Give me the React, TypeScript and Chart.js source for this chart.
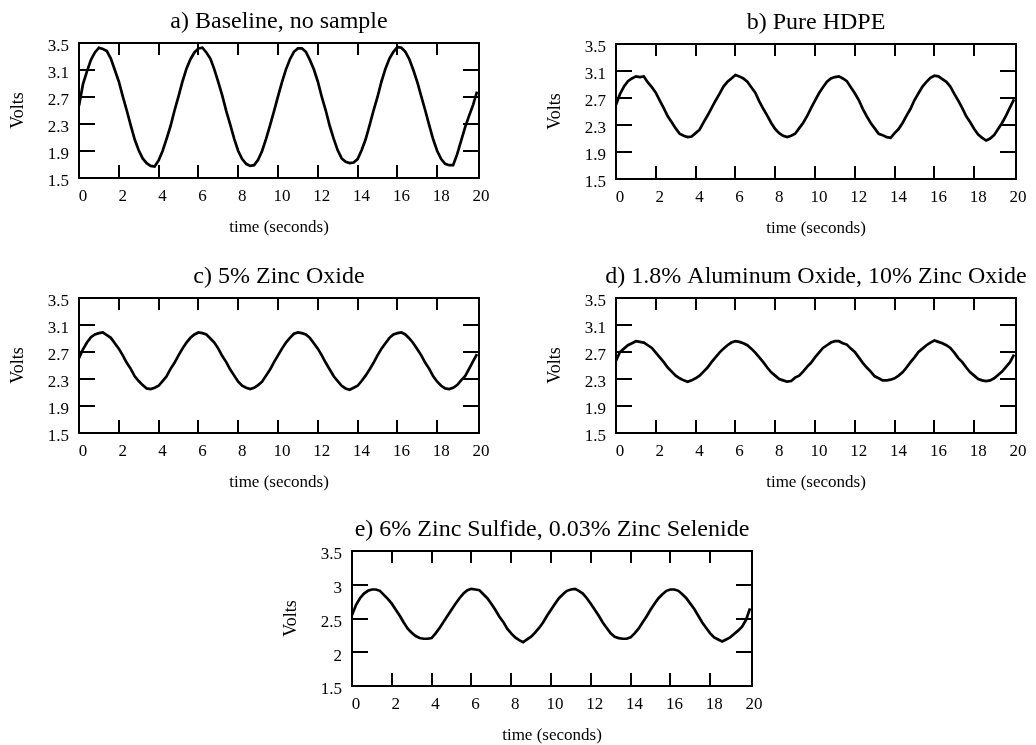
import React, { useEffect, useRef } from 'react';
import { Chart, registerables } from 'chart.js';

Chart.register(...registerables);

const SERIF = "'Liberation Serif', 'Times New Roman', Times, serif";

// sampling interval of the recorded traces (seconds)
const timeStep = 0.2;
const timeTicks = [0, 2, 4, 6, 8, 10, 12, 14, 16, 18, 20];
const voltTicks = [1.5, 1.9, 2.3, 2.7, 3.1, 3.5];
const voltTicksE = [1.5, 2, 2.5, 3, 3.5];

// a) Baseline, no sample
const baselineVolts = [
  2.57, 2.89, 3.08, 3.25, 3.36, 3.43, 3.41, 3.38, 3.27, 3.10, 2.93, 2.71, 2.50, 2.28, 2.07, 1.91, 1.79, 1.72, 1.68, 1.67, 1.76, 1.90, 2.08, 2.27, 2.50,
  2.71, 2.93, 3.12, 3.26, 3.36, 3.42, 3.43, 3.36, 3.27, 3.11, 2.92, 2.72, 2.49, 2.29, 2.08, 1.90, 1.78, 1.71, 1.68, 1.69, 1.77, 1.90, 2.08, 2.28, 2.49,
  2.71, 2.92, 3.11, 3.26, 3.37, 3.42, 3.42, 3.37, 3.25, 3.11, 2.93, 2.70, 2.50, 2.27, 2.08, 1.91, 1.79, 1.74, 1.72, 1.73, 1.78, 1.91, 2.07, 2.28, 2.50,
  2.70, 2.93, 3.12, 3.27, 3.37, 3.44, 3.43, 3.37, 3.26, 3.10, 2.92, 2.71, 2.50, 2.28, 2.07, 1.90, 1.78, 1.71, 1.69, 1.69, 1.85, 2.05, 2.25, 2.42, 2.58,
  2.78,
];

// b) Pure HDPE
const hdpeVolts = [
  2.60, 2.76, 2.87, 2.95, 2.99, 3.02, 3.01, 3.02, 2.93, 2.86, 2.78, 2.66, 2.55, 2.43, 2.34, 2.25, 2.17, 2.14, 2.12, 2.13, 2.18, 2.23, 2.34, 2.44, 2.55,
  2.66, 2.76, 2.87, 2.94, 2.99, 3.04, 3.02, 2.99, 2.94, 2.86, 2.78, 2.65, 2.54, 2.44, 2.33, 2.24, 2.18, 2.14, 2.12, 2.14, 2.17, 2.25, 2.33, 2.43, 2.55,
  2.66, 2.77, 2.86, 2.94, 2.99, 3.01, 3.02, 2.99, 2.95, 2.86, 2.77, 2.67, 2.54, 2.43, 2.33, 2.25, 2.17, 2.15, 2.12, 2.11, 2.18, 2.24, 2.33, 2.44, 2.54,
  2.67, 2.77, 2.87, 2.94, 3.00, 3.03, 3.02, 2.98, 2.94, 2.87, 2.76, 2.66, 2.55, 2.43, 2.34, 2.24, 2.16, 2.11, 2.07, 2.10, 2.15, 2.24, 2.33, 2.44, 2.56,
  2.68,
];

// c) 5% Zinc Oxide
const zincOxideVolts = [
  2.61, 2.74, 2.84, 2.92, 2.96, 2.98, 2.99, 2.95, 2.91, 2.83, 2.75, 2.65, 2.54, 2.45, 2.34, 2.27, 2.21, 2.16, 2.15, 2.17, 2.20, 2.27, 2.34, 2.45, 2.54,
  2.65, 2.75, 2.84, 2.91, 2.96, 2.99, 2.98, 2.96, 2.90, 2.84, 2.75, 2.64, 2.55, 2.44, 2.35, 2.26, 2.20, 2.17, 2.15, 2.17, 2.21, 2.26, 2.35, 2.44, 2.55,
  2.65, 2.75, 2.84, 2.91, 2.97, 2.99, 2.98, 2.96, 2.91, 2.83, 2.75, 2.65, 2.54, 2.44, 2.34, 2.27, 2.20, 2.16, 2.14, 2.17, 2.20, 2.27, 2.35, 2.44, 2.54,
  2.65, 2.75, 2.83, 2.91, 2.96, 2.98, 2.99, 2.96, 2.90, 2.83, 2.74, 2.65, 2.54, 2.45, 2.34, 2.26, 2.20, 2.16, 2.15, 2.17, 2.21, 2.28, 2.34, 2.45, 2.56,
  2.67,
];

// d) 1.8% Aluminum Oxide, 10% Zinc Oxide
const aluminumZincVolts = [
  2.57, 2.70, 2.75, 2.80, 2.83, 2.86, 2.85, 2.84, 2.80, 2.76, 2.69, 2.62, 2.55, 2.47, 2.41, 2.35, 2.31, 2.28, 2.26, 2.28, 2.31, 2.35, 2.41, 2.47, 2.55,
  2.62, 2.69, 2.75, 2.80, 2.84, 2.86, 2.85, 2.83, 2.80, 2.75, 2.69, 2.62, 2.55, 2.47, 2.40, 2.35, 2.30, 2.28, 2.26, 2.27, 2.32, 2.35, 2.41, 2.48, 2.54,
  2.62, 2.69, 2.76, 2.80, 2.84, 2.86, 2.86, 2.83, 2.81, 2.75, 2.70, 2.62, 2.54, 2.47, 2.41, 2.34, 2.31, 2.28, 2.28, 2.29, 2.31, 2.35, 2.40, 2.47, 2.55,
  2.62, 2.70, 2.75, 2.80, 2.84, 2.87, 2.85, 2.83, 2.80, 2.76, 2.69, 2.61, 2.55, 2.47, 2.40, 2.35, 2.30, 2.28, 2.27, 2.28, 2.31, 2.36, 2.41, 2.48, 2.55,
  2.66,
];

// e) 6% Zinc Sulfide, 0.03% Zinc Selenide
const sulfideSelenideVolts = [
  2.55, 2.70, 2.80, 2.87, 2.91, 2.93, 2.93, 2.91, 2.85, 2.79, 2.72, 2.63, 2.54, 2.44, 2.35, 2.29, 2.24, 2.21, 2.20, 2.20, 2.21, 2.28, 2.36, 2.45, 2.54,
  2.63, 2.72, 2.80, 2.87, 2.92, 2.94, 2.93, 2.92, 2.86, 2.80, 2.72, 2.63, 2.53, 2.45, 2.35, 2.28, 2.22, 2.18, 2.15, 2.19, 2.23, 2.29, 2.36, 2.44, 2.54,
  2.63, 2.72, 2.80, 2.86, 2.91, 2.93, 2.94, 2.91, 2.87, 2.80, 2.72, 2.63, 2.54, 2.44, 2.36, 2.28, 2.23, 2.21, 2.20, 2.20, 2.22, 2.28, 2.35, 2.44, 2.53,
  2.63, 2.72, 2.80, 2.86, 2.91, 2.93, 2.93, 2.91, 2.86, 2.80, 2.72, 2.64, 2.54, 2.44, 2.36, 2.28, 2.22, 2.19, 2.16, 2.19, 2.22, 2.27, 2.32, 2.38, 2.48,
  2.65,
];

const panelTitles = [
  'a) Baseline, no sample',
  'b) Pure HDPE',
  'c) 5% Zinc Oxide',
  'd) 1.8% Aluminum Oxide, 10% Zinc Oxide',
  'e) 6% Zinc Sulfide, 0.03% Zinc Selenide',
];

const xAxisTitle = 'time (seconds)';
const yAxisTitle = 'Volts';

// layout (frame top-left corner of each panel, in page pixels)
const FRAME_W = 400;
const FRAME_H = 135;
const PAD_L = 79;
const PAD_T = 43;
const CANVAS_W = 558;
const CANVAS_H = 245;

const framePlugin = {
  id: 'panelFrame',
  afterDatasetsDraw(chart: any, _args: any, opts: any) {
    const { ctx, chartArea } = chart;
    const { left, right, top, bottom } = chartArea;
    const xs = chart.scales.x;
    const ys = chart.scales.y;
    ctx.save();
    ctx.strokeStyle = '#000';
    ctx.lineWidth = 2;
    ctx.strokeRect(left, top, right - left, bottom - top);
    ctx.beginPath();
    xs.ticks.forEach((t: any) => {
      if (t.value <= xs.min || t.value >= 20) return;
      const px = Math.round(xs.getPixelForValue(t.value));
      ctx.moveTo(px, top);
      ctx.lineTo(px, top + 12);
      ctx.moveTo(px, bottom);
      ctx.lineTo(px, bottom - 13);
    });
    ys.ticks.forEach((t: any) => {
      if (t.value <= ys.min || t.value >= ys.max) return;
      const py = Math.round(ys.getPixelForValue(t.value));
      ctx.moveTo(left, py);
      ctx.lineTo(left + 16, py);
      ctx.moveTo(right, py);
      ctx.lineTo(right - 16, py);
    });
    ctx.stroke();
    // panel heading
    ctx.fillStyle = '#000';
    ctx.font = `24px ${SERIF}`;
    ctx.textAlign = 'center';
    ctx.textBaseline = 'middle';
    ctx.fillText(opts.title, (left + right) / 2, top - 21);
    ctx.restore();
  },
};

type PanelProps = { title: string; values: number[]; yTicks: number[]; left: number; top: number };

function Panel({ title, values, yTicks, left, top }: PanelProps) {
  const ref = useRef<HTMLCanvasElement | null>(null);
  useEffect(() => {
    const canvas = ref.current;
    if (!canvas) return;
    const tickFont = { family: SERIF, size: 17, lineHeight: 1 };
    const chart = new Chart(canvas, {
      type: 'line',
      data: {
        datasets: [
          {
            data: values.map((v, i) => ({ x: i * timeStep, y: v })),
            borderColor: '#000',
            borderWidth: 2.7,
            pointRadius: 0,
            tension: 0,
            fill: false,
          },
        ],
      },
      options: {
        responsive: false,
        animation: false,
        devicePixelRatio: 1,
        layout: { padding: { left: 0, right: CANVAS_W - PAD_L - FRAME_W, top: PAD_T, bottom: 0 } },
        plugins: {
          legend: { display: false },
          tooltip: { enabled: false },
          title: { display: false },
          panelFrame: { title },
        } as any,
        scales: {
          x: {
            type: 'linear',
            min: 0,
            max: 20.1,
            afterBuildTicks: (s: any) => {
              s.ticks = timeTicks.map((v) => ({ value: v }));
            },
            afterFit: (s: any) => {
              s.height = CANVAS_H - PAD_T - FRAME_H;
            },
            grid: { display: false, drawTicks: false },
            border: { display: false },
            ticks: {
              color: '#000',
              font: tickFont,
              padding: 10,
              labelOffset: 4,
              maxRotation: 0,
              autoSkip: false,
              callback: (v: any) => String(v),
            },
            title: {
              display: true,
              text: xAxisTitle,
              color: '#000',
              font: { family: SERIF, size: 17, lineHeight: 1 },
              padding: { top: 0, bottom: 9 },
            },
          },
          y: {
            type: 'linear',
            min: 1.5,
            max: 3.5,
            afterBuildTicks: (s: any) => {
              s.ticks = yTicks.map((v) => ({ value: v }));
            },
            afterFit: (s: any) => {
              s.width = PAD_L;
            },
            grid: { display: false, drawTicks: false },
            border: { display: false },
            ticks: {
              color: '#000',
              font: tickFont,
              padding: 10,
              labelOffset: 4,
              autoSkip: false,
              callback: (v: any) => String(v),
            },
            title: {
              display: true,
              text: yAxisTitle,
              color: '#000',
              font: { family: SERIF, size: 18, lineHeight: 1 },
              padding: { top: 9, bottom: 0 },
            },
          },
        } as any,
      },
      plugins: [framePlugin],
    } as any);
    return () => chart.destroy();
  }, [title, values, yTicks]);
  return (
    <canvas
      ref={ref}
      width={CANVAS_W}
      height={CANVAS_H}
      style={{ position: 'absolute', left: left - PAD_L, top: top - PAD_T, width: CANVAS_W, height: CANVAS_H }}
    />
  );
}

const panelLayout = [
  { left: 79, top: 43 },
  { left: 616, top: 44 },
  { left: 79, top: 298 },
  { left: 616, top: 298 },
  { left: 352, top: 551 },
];

export default function App() {
  const series = [baselineVolts, hdpeVolts, zincOxideVolts, aluminumZincVolts, sulfideSelenideVolts];
  const ticks = [voltTicks, voltTicks, voltTicks, voltTicks, voltTicksE];
  return (
    <div
      style={{
        position: 'absolute',
        left: 0,
        top: 0,
        width: 1036,
        height: 745,
        overflow: 'hidden',
        background: '#fff',
      }}
    >
      {series.map((vals, i) => (
        <Panel
          key={i}
          title={panelTitles[i]}
          values={vals}
          yTicks={ticks[i]}
          left={panelLayout[i].left}
          top={panelLayout[i].top}
        />
      ))}
    </div>
  );
}
